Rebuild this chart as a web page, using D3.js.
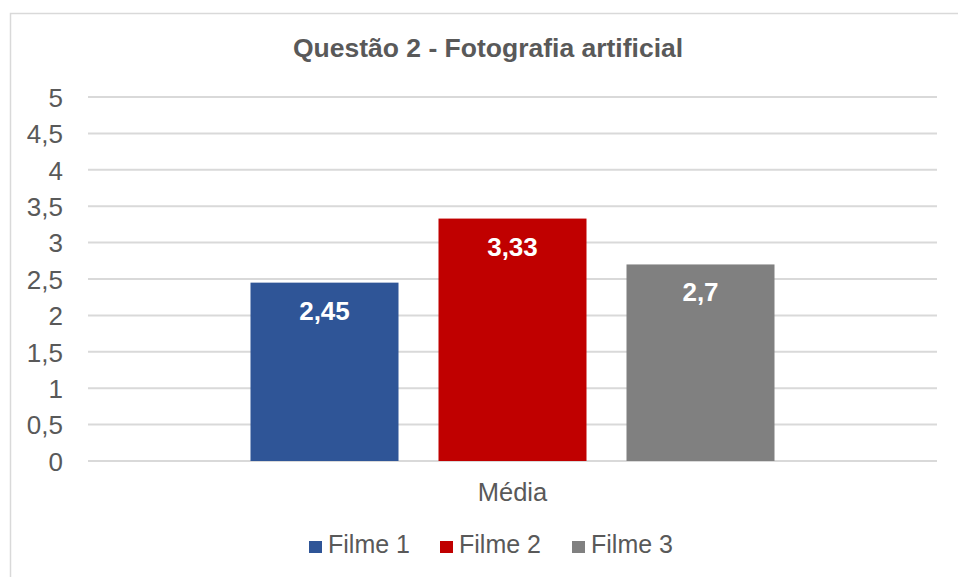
<!DOCTYPE html>
<html lang="pt">
  <head>
    <meta charset="utf-8" />
    <title>Questão 2 - Fotografia artificial</title>
    <style>
      body {
        margin: 0;
        background: #fff;
        font-family: "Liberation Sans", Arial, sans-serif;
      }
      svg {
        display: block;
      }
    </style>
  </head>
  <body>
    <svg width="958" height="577"></svg>
    <script src="https://d3js.org/d3.v7.min.js"></script>
    <script>
      const categories = ["Média"];
      const seriesNames = ["Filme 1", "Filme 2", "Filme 3"];
      const seriesValues = [2.45, 3.33, 2.7];
      const seriesColors = ["#2f5597", "#c00000", "#808080"];
      const yTicks = [0, 0.5, 1, 1.5, 2, 2.5, 3, 3.5, 4, 4.5, 5];

      const width = 958;
      const height = 577;
      const margin = { top: 97, right: 21, bottom: 116, left: 88 };
      const fmt = (v) => String(v).replace(".", ",");
      const textColor = "#595959";

      const svg = d3.select("svg");

      // chart frame
      svg
        .append("rect")
        .attr("x", 10.5)
        .attr("y", 13.5)
        .attr("width", 970)
        .attr("height", 600)
        .attr("fill", "none")
        .attr("stroke", "#d9d9d9")
        .attr("stroke-width", 1.5);

      svg
        .append("text")
        .attr("x", 488)
        .attr("y", 57)
        .attr("text-anchor", "middle")
        .attr("font-size", 26.5)
        .attr("font-weight", "bold")
        .attr("fill", textColor)
        .text("Questão 2 - Fotografia artificial");

      const y = d3
        .scaleLinear()
        .domain([0, 5])
        .range([461, margin.top]);

      const x0 = d3
        .scaleBand()
        .domain(categories)
        .range([margin.left, width - margin.right])
        .paddingInner(0)
        .paddingOuter(0);

      // inner band: 3 bars of 148px with 40px gaps, centered in category
      const groupWidth = 524;
      const x1 = d3
        .scaleBand()
        .domain(seriesNames)
        .range([
          x0.bandwidth() / 2 - groupWidth / 2,
          x0.bandwidth() / 2 + groupWidth / 2,
        ])
        .paddingInner(40 / 188)
        .paddingOuter(0);

      const grid = svg.append("g");
      grid
        .selectAll("line")
        .data(yTicks)
        .join("line")
        .attr("x1", margin.left)
        .attr("x2", width - margin.right)
        .attr("y1", (d) => y(d))
        .attr("y2", (d) => y(d))
        .attr("stroke", "#d9d9d9")
        .attr("stroke-width", 2);

      const yAxis = svg
        .append("g")
        .attr("transform", "translate(63,0)")
        .call(
          d3
            .axisLeft(y)
            .tickValues(yTicks)
            .tickSize(0)
            .tickPadding(0)
            .tickFormat(fmt)
        );
      yAxis.select(".domain").remove();
      yAxis
        .selectAll("text")
        .attr("font-family", "'Liberation Sans', Arial, sans-serif")
        .attr("font-size", 26)
        .attr("dy", "0.36em")
        .attr("fill", textColor);

      const groups = svg
        .selectAll(".cat")
        .data(categories)
        .join("g")
        .attr("class", "cat")
        .attr("transform", (d) => `translate(${x0(d)},0)`);

      const bars = groups
        .selectAll(".bar")
        .data(seriesNames.map((n, i) => ({ name: n, value: seriesValues[i], color: seriesColors[i] })))
        .join("g")
        .attr("class", "bar");

      bars
        .append("rect")
        .attr("x", (d) => x1(d.name))
        .attr("width", x1.bandwidth())
        .attr("y", (d) => y(d.value))
        .attr("height", (d) => y(0) - y(d.value))
        .attr("fill", (d) => d.color);

      bars
        .append("text")
        .attr("x", (d) => x1(d.name) + x1.bandwidth() / 2)
        .attr("y", (d) => y(d.value) + 37)
        .attr("text-anchor", "middle")
        .attr("font-size", 26)
        .attr("font-weight", "bold")
        .attr("fill", "#fff")
        .text((d) => fmt(d.value));

      // category label
      svg
        .selectAll(".cat-label")
        .data(categories)
        .join("text")
        .attr("class", "cat-label")
        .attr("x", (d) => x0(d) + x0.bandwidth() / 2)
        .attr("y", 501)
        .attr("text-anchor", "middle")
        .attr("font-size", 25.5)
        .attr("fill", textColor)
        .text((d) => d);

      // legend
      const legendX = [309, 440, 572];
      const legend = svg
        .selectAll(".legend")
        .data(seriesNames)
        .join("g")
        .attr("class", "legend")
        .attr("transform", (d, i) => `translate(${legendX[i]},0)`);
      legend
        .append("rect")
        .attr("x", 0)
        .attr("y", 541)
        .attr("width", 13)
        .attr("height", 12)
        .attr("fill", (d, i) => seriesColors[i]);
      legend
        .append("text")
        .attr("x", 19)
        .attr("y", 553)
        .attr("font-size", 25)
        .attr("fill", textColor)
        .text((d) => d);
    </script>
  </body>
</html>
